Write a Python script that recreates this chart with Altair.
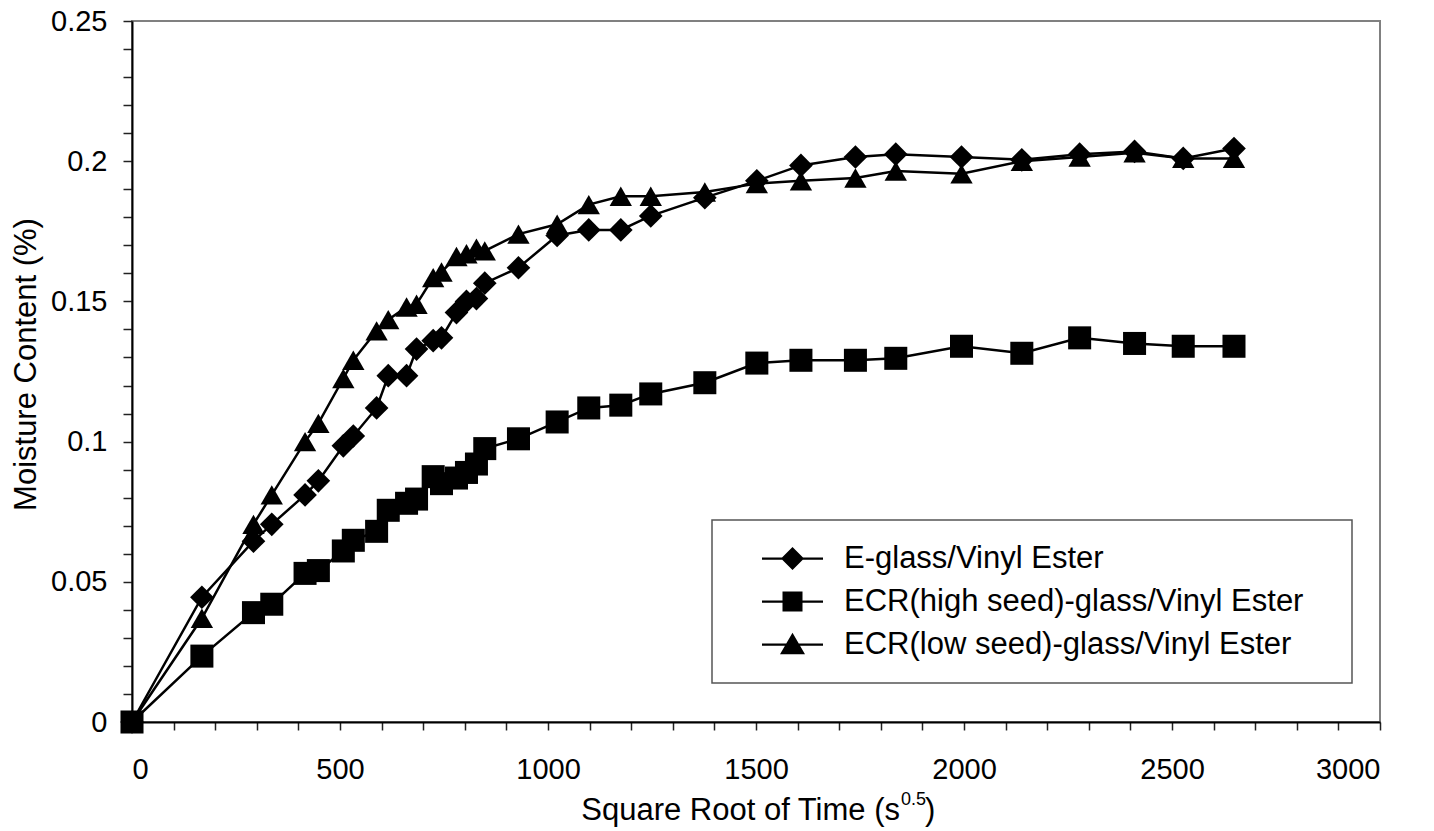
import altair as alt
import pandas as pd

# ---------------- data ----------------
times = [0, 168, 292, 336, 416, 448, 508, 532, 588, 616, 660, 684, 724, 744,
         780, 804, 828, 848, 929, 1022, 1098, 1175, 1247, 1377, 1502, 1608,
         1739, 1836, 1994, 2139, 2278, 2410, 2527, 2649]

e_glass = [0, 0.0445, 0.0645, 0.0705, 0.081, 0.086, 0.0985, 0.102, 0.112,
           0.1235, 0.1235, 0.133, 0.136, 0.137, 0.146, 0.150, 0.151, 0.1565,
           0.162, 0.1735, 0.1755, 0.1755, 0.1805, 0.187, 0.193, 0.1985,
           0.2015, 0.2025, 0.2015, 0.2005, 0.2025, 0.2035, 0.201, 0.2045]

ecr_high = [0, 0.0235, 0.039, 0.042, 0.053, 0.054, 0.061, 0.0648, 0.068,
            0.0755, 0.078, 0.0795, 0.0875, 0.085, 0.087, 0.089, 0.092, 0.0975,
            0.101, 0.107, 0.112, 0.113, 0.117, 0.121, 0.128, 0.129,
            0.129, 0.1297, 0.134, 0.1315, 0.137, 0.135, 0.134, 0.134]

ecr_low = [0, 0.037, 0.0705, 0.081, 0.100, 0.1065, 0.1225, 0.129, 0.1395,
           0.1435, 0.148, 0.149, 0.1585, 0.1605, 0.166, 0.167, 0.169, 0.168,
           0.174, 0.1775, 0.1845, 0.1875, 0.1875, 0.189, 0.192, 0.193,
           0.194, 0.1965, 0.1955, 0.200, 0.2015, 0.203, 0.201, 0.201]

series_names = ["E-glass/Vinyl Ester",
                "ECR(high seed)-glass/Vinyl Ester",
                "ECR(low seed)-glass/Vinyl Ester"]

x_title_main = ["Square Root of Time (s"]
x_title_sup = ["0.5"]
x_title_close = [")"]
y_title = "Moisture Content (%)"

x_ticks = list(range(0, 3001, 100))
y_ticks = [round(i * 0.01, 2) for i in range(26)]

# ---------------- table ----------------
rows = []
for name, vals in zip(series_names, [e_glass, ecr_high, ecr_low]):
    for t, v in zip(times, vals):
        rows.append({"t": t, "m": v, "series": name})
df = pd.DataFrame(rows)

FONT = "Liberation Sans"

x_enc = alt.X(
    "t:Q",
    scale=alt.Scale(domain=[0, 3000], nice=False, zero=False),
    axis=alt.Axis(
        values=x_ticks,
        labelExpr="datum.value % 500 === 0 ? format(datum.value, 'd') : ''",
        labelOverlap=False,
        grid=False,
        tickSize=8,
        labelPadding=25,
        title=None,
    ),
)
y_enc = alt.Y(
    "m:Q",
    scale=alt.Scale(domain=[0, 0.25], nice=False),
    axis=alt.Axis(
        values=y_ticks,
        labelExpr="round(datum.value * 100) % 5 === 0 ? format(datum.value, '~g') : ''",
        labelOverlap=False,
        grid=False,
        tickSize=9,
        labelPadding=16,
        title=y_title,
        titleX=-97,
        titleY=343,
        titleAlign="center",
        titleBaseline="alphabetic",
    ),
)

base = alt.Chart(df)

lines = base.mark_line(color="black", strokeWidth=2.5).encode(
    x=x_enc, y=y_enc, detail="series:N"
)

points = base.mark_point(filled=True, opacity=1, color="black").encode(
    x=x_enc,
    y=y_enc,
    shape=alt.Shape(
        "series:N",
        scale=alt.Scale(domain=series_names, range=["diamond", "square", "triangle-up"]),
        legend=None,
    ),
    size=alt.Size(
        "series:N",
        scale=alt.Scale(domain=series_names, range=[560, 500, 640]),
        legend=None,
    ),
)

# legend symbols: a line segment with the marker on it (unit 1 = 12.5 px at size 625);
# the trailing move-to only widens the legend box to the right.
legend_paths = [
    "M-2.44,-0.09H2.44V0.09H-2.44Z M0,-0.92L0.92,0L0,0.92L-0.92,0Z M42.9,0",
    "M-2.44,-0.09H2.44V0.09H-2.44Z M-0.8,-0.8H0.8V0.8H-0.8Z M42.9,0",
    "M-2.44,-0.09H2.44V0.09H-2.44Z M0,-0.95L1,0.78L-1,0.78Z M42.9,0",
]

legend_layer = base.transform_filter("false").mark_point(
    filled=True, opacity=1, color="black", size=625
).encode(
    x=x_enc,
    y=y_enc,
    shape=alt.Shape(
        "series:N",
        scale=alt.Scale(domain=series_names, range=legend_paths),
        legend=alt.Legend(
            title=None,
            orient="none",
            legendX=580,
            legendY=499,
            padding=23,
            strokeColor="#555555",
            fillColor="white",
            symbolSize=625,
            symbolFillColor="black",
            symbolStrokeWidth=0,
            symbolOffset=42,
            labelOffset=36,
            rowPadding=11,
            labelFont=FONT,
            labelFontSize=31,
            labelColor="black",
            labelLimit=2000,
        ),
    ),
)

# x-axis title with a real superscript, built from three text pieces
t_main = alt.Chart(pd.DataFrame({"txt": x_title_main})).mark_text(
    font=FONT, fontSize=31, color="black", align="right", baseline="alphabetic"
).encode(text="txt:N", x=alt.value(768), y=alt.value(799))

t_sup = alt.Chart(pd.DataFrame({"txt": x_title_sup})).mark_text(
    font=FONT, fontSize=18, color="black", align="left", baseline="alphabetic"
).encode(text="txt:N", x=alt.value(769), y=alt.value(784))

t_close = alt.Chart(pd.DataFrame({"txt": x_title_close})).mark_text(
    font=FONT, fontSize=31, color="black", align="left", baseline="alphabetic"
).encode(text="txt:N", x=alt.value(793), y=alt.value(799))

chart = (
    alt.layer(lines, points, legend_layer, t_main, t_sup, t_close)
    .resolve_scale(shape="independent")
    .properties(
        width=1248,
        height=701,
        autosize=alt.AutoSizeParams(type="none"),
        padding={"left": 132, "top": 21, "right": 54, "bottom": 109},
        background="white",
    )
    .configure_view(stroke="#808080", strokeWidth=2)
    .configure_axis(
        labelFont=FONT,
        labelFontSize=29,
        labelColor="black",
        titleFont=FONT,
        titleFontSize=31,
        titleFontWeight="normal",
        titleColor="black",
        domainColor="black",
        domainWidth=2,
        tickColor="#222222",
        tickWidth=1.5,
    )
    .configure_legend(strokeWidth=1.5)
)

chart.save("out.html", embed_options={"renderer": "svg", "actions": False})
